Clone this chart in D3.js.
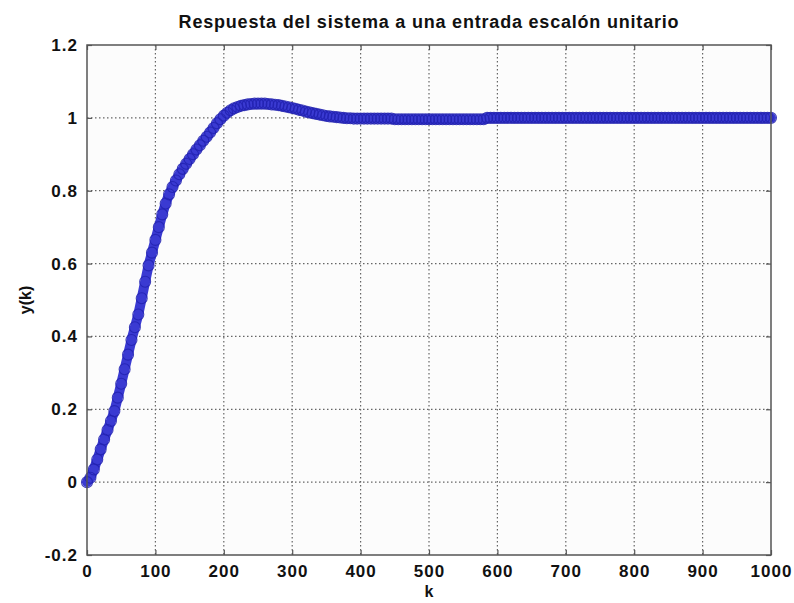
<!DOCTYPE html>
<html>
<head>
<meta charset="utf-8">
<script src="https://cdn.jsdelivr.net/npm/d3@7"></script>
<style>
  body { margin: 0; background: #ffffff; }
  .tick text { font-family: "Liberation Sans", Arial, sans-serif; font-weight: bold; font-size: 17px; letter-spacing: 1px; fill: #111; }
  .etiqueta { font-family: "Liberation Sans", Arial, sans-serif; font-weight: bold; fill: #111; }
</style>
</head>
<body>
<div id="grafica"></div>
<script>
// datos: respuesta y(k), muestreada cada 5 muestras (k = 0, 5, ..., 1000)
const pasoK = 5;
const respuesta = [
  0.000, 0.012, 0.035, 0.062, 0.090, 0.117, 0.143, 0.168, 0.195, 0.232,
  0.270, 0.310, 0.350, 0.390, 0.425, 0.460, 0.505, 0.550, 0.595, 0.630,
  0.665, 0.700, 0.735, 0.765, 0.790, 0.810, 0.828, 0.845, 0.860, 0.874,
  0.887, 0.900, 0.913, 0.925, 0.937, 0.948, 0.960, 0.972, 0.985, 0.996,
  1.006, 1.014, 1.021, 1.026, 1.030, 1.033, 1.035, 1.037, 1.038, 1.039,
  1.039, 1.039, 1.039, 1.038, 1.037, 1.036, 1.035, 1.033, 1.031, 1.029,
  1.027, 1.025, 1.022, 1.020, 1.017, 1.015, 1.013, 1.011, 1.009, 1.007,
  1.005, 1.004, 1.003, 1.002, 1.001, 1.000, 0.999, 0.999, 0.998, 0.998,
  0.998, 0.998, 0.998, 0.998, 0.998, 0.998, 0.998, 0.998, 0.998, 0.998,
  0.996, 0.996, 0.996, 0.996, 0.996, 0.996, 0.996, 0.996, 0.996, 0.996,
  0.996, 0.996, 0.996, 0.996, 0.996, 0.996, 0.996, 0.996, 0.996, 0.996,
  0.996, 0.996, 0.996, 0.996, 0.996, 0.996, 0.996,
  1.000, 1.000, 1.000, 1.000, 1.000, 1.000, 1.000, 1.000, 1.000, 1.000,
  1.000, 1.000, 1.000, 1.000, 1.000, 1.000, 1.000, 1.000, 1.000, 1.000,
  1.000, 1.000, 1.000, 1.000, 1.000, 1.000, 1.000, 1.000, 1.000, 1.000,
  1.000, 1.000, 1.000, 1.000, 1.000, 1.000, 1.000, 1.000, 1.000, 1.000,
  1.000, 1.000, 1.000, 1.000, 1.000, 1.000, 1.000, 1.000, 1.000, 1.000,
  1.000, 1.000, 1.000, 1.000, 1.000, 1.000, 1.000, 1.000, 1.000, 1.000,
  1.000, 1.000, 1.000, 1.000, 1.000, 1.000, 1.000, 1.000, 1.000, 1.000,
  1.000, 1.000, 1.000, 1.000, 1.000, 1.000, 1.000, 1.000, 1.000, 1.000,
  1.000, 1.000, 1.000, 1.000
];

// ticks de los ejes
const ticksX = [0, 100, 200, 300, 400, 500, 600, 700, 800, 900, 1000];
const ticksY = [-0.2, 0, 0.2, 0.4, 0.6, 0.8, 1, 1.2];
const etiquetasY = ["-0.2", "0", "0.2", "0.4", "0.6", "0.8", "1", "1.2"];

const titulo = "Respuesta del sistema a una entrada escalón unitario";
const tituloX = "k";
const tituloY = "y(k)";

// parametros de la grafica
const ancho = 794, alto = 603;
const margin = { top: 45, right: 23, bottom: 48, left: 87 };
const width = ancho - margin.left - margin.right;
const height = alto - margin.top - margin.bottom;

const datos = respuesta.map((y, i) => ({ k: i * pasoK, y: y }));

const xScale = d3.scaleLinear().domain([0, 1000]).range([0, width]);
const yScale = d3.scaleLinear().domain([-0.2, 1.2]).range([height, 0]);

const svg = d3.select("#grafica").append("svg")
  .attr("width", ancho)
  .attr("height", alto);

svg.append("rect").attr("width", ancho).attr("height", alto).attr("fill", "#ffffff");

const g = svg.append("g")
  .attr("transform", `translate(${margin.left}, ${margin.top})`);

g.append("rect")
  .attr("width", width).attr("height", height)
  .attr("fill", "#fcfcfc");

// rejilla punteada
g.append("g").selectAll("line")
  .data(ticksX.slice(1, -1)).enter()
  .append("line")
  .attr("x1", d => xScale(d)).attr("x2", d => xScale(d))
  .attr("y1", 0).attr("y2", height)
  .attr("stroke", "#666").attr("stroke-width", 1.2)
  .attr("stroke-dasharray", "1.5,2.5");

g.append("g").selectAll("line")
  .data(ticksY.slice(1, -1)).enter()
  .append("line")
  .attr("x1", 0).attr("x2", width)
  .attr("y1", d => yScale(d)).attr("y2", d => yScale(d))
  .attr("stroke", "#666").attr("stroke-width", 1.2)
  .attr("stroke-dasharray", "1.5,2.5");

// ejes
const xAxis = d3.axisBottom(xScale).tickValues(ticksX).tickSizeInner(-5).tickSizeOuter(0).tickPadding(10)
  .tickFormat(d3.format("d"));
const yAxis = d3.axisLeft(yScale).tickValues(ticksY).tickSizeInner(-5).tickSizeOuter(0).tickPadding(9)
  .tickFormat((d, i) => etiquetasY[i]);

const ejeX = g.append("g")
  .attr("transform", `translate(0, ${height})`)
  .call(xAxis);
const ejeY = g.append("g").call(yAxis);

[ejeX, ejeY].forEach(eje => {
  eje.select(".domain").remove();
  eje.selectAll(".tick line").attr("stroke", "#555").attr("stroke-width", 1.2);
});

// ticks en los lados opuestos
g.append("g").call(d3.axisTop(xScale).tickValues(ticksX).tickSizeInner(-5).tickSizeOuter(0).tickFormat(""))
  .call(s => s.select(".domain").remove())
  .selectAll(".tick line").attr("stroke", "#555").attr("stroke-width", 1.2);
g.append("g").attr("transform", `translate(${width}, 0)`)
  .call(d3.axisRight(yScale).tickValues(ticksY).tickSizeInner(-5).tickSizeOuter(0).tickFormat(""))
  .call(s => s.select(".domain").remove())
  .selectAll(".tick line").attr("stroke", "#555").attr("stroke-width", 1.2);

// curva: banda gruesa y circulos
const linea = d3.line()
  .x(d => xScale(d.k))
  .y(d => yScale(d.y));

g.append("path")
  .datum(datos)
  .attr("d", linea)
  .attr("fill", "none")
  .attr("stroke", "#3a3ad2")
  .attr("stroke-width", 10)
  .attr("stroke-linejoin", "round")
  .attr("stroke-linecap", "round");

g.append("g").selectAll("circle")
  .data(datos).enter()
  .append("circle")
  .attr("cx", d => xScale(d.k))
  .attr("cy", d => yScale(d.y))
  .attr("r", 5.5)
  .attr("fill", "none")
  .attr("stroke", "#2222b0")
  .attr("stroke-width", 1.1)
  .attr("opacity", 0.85);

// marco
g.append("rect")
  .attr("width", width).attr("height", height)
  .attr("fill", "none")
  .attr("stroke", "#555").attr("stroke-width", 1.5);

// textos
svg.append("text")
  .attr("class", "etiqueta")
  .attr("x", margin.left + width / 2)
  .attr("y", 28)
  .attr("text-anchor", "middle")
  .attr("font-size", "18px")
  .attr("letter-spacing", "0.8px")
  .text(titulo);

svg.append("text")
  .attr("class", "etiqueta")
  .attr("x", margin.left + width / 2)
  .attr("y", 597)
  .attr("text-anchor", "middle")
  .attr("font-size", "16px")
  .text(tituloX);

svg.append("text")
  .attr("class", "etiqueta")
  .attr("transform", `translate(31, ${margin.top + height / 2}) rotate(-90)`)
  .attr("text-anchor", "middle")
  .attr("font-size", "16px")
  .text(tituloY);
</script>
</body>
</html>
